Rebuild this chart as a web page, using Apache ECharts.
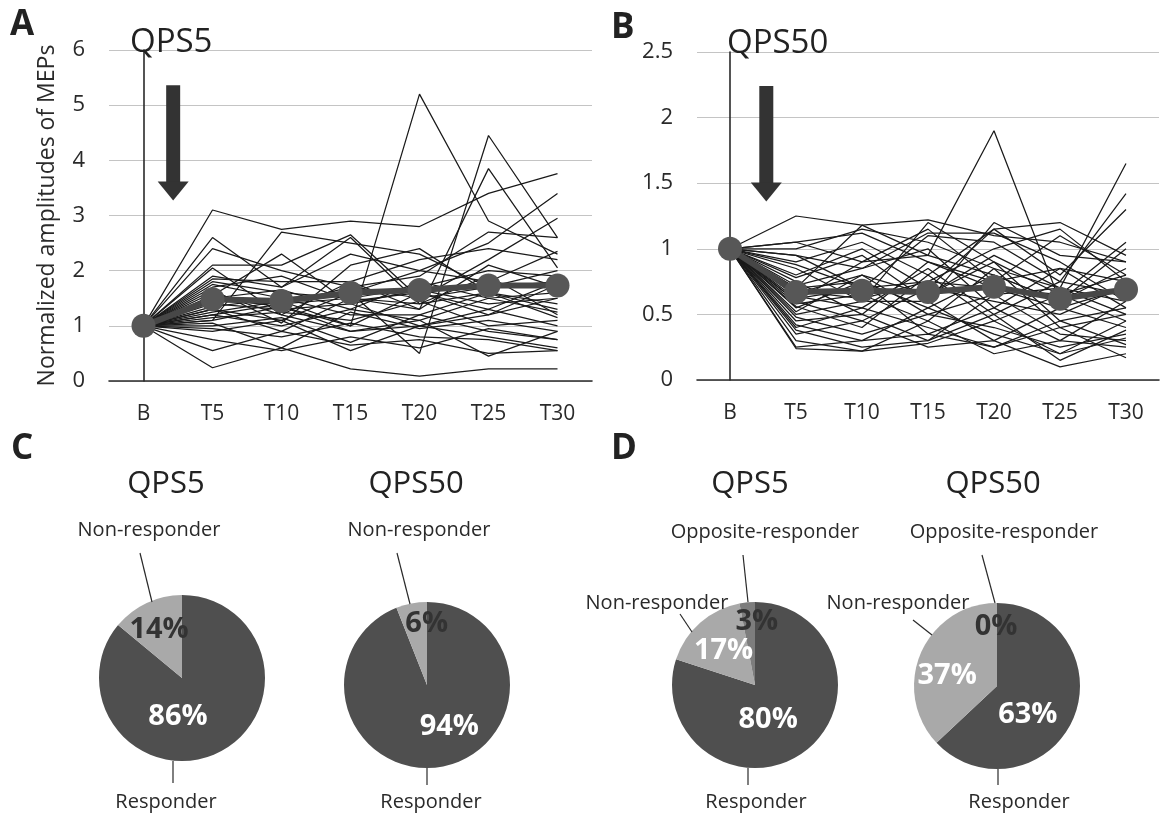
<!DOCTYPE html>
<html><head><meta charset="utf-8">
<script src="https://cdn.jsdelivr.net/npm/echarts@6/dist/echarts.min.js"></script>
<style>html,body{margin:0;padding:0;background:#fff}#c{width:1173px;height:813px}</style>
</head><body><div id="c"></div>
<script>
// ---------------- DATA ----------------
const TIMEPOINTS = ['B', 'T5', 'T10', 'T15', 'T20', 'T25', 'T30'];

// Panel A (QPS5): individual normalized MEP amplitudes, one row per subject
const QPS5_SUBJECTS = [
  [1, 3.10, 2.75, 2.90, 2.80, 3.40, 3.76],
  [1, 1.50, 1.35, 1.00, 5.20, 2.90, 2.30],
  [1, 1.30, 1.10, 1.60, 0.50, 4.45, 2.60],
  [1, 1.20, 1.40, 1.50, 1.30, 3.85, 2.05],
  [1, 2.60, 1.70, 2.30, 2.00, 2.50, 3.40],
  [1, 2.10, 2.10, 2.65, 1.50, 2.20, 2.95],
  [1, 2.40, 2.00, 1.70, 1.90, 2.70, 2.60],
  [1, 1.90, 1.70, 2.60, 1.40, 1.60, 1.30],
  [1, 1.85, 1.80, 1.80, 2.20, 2.40, 2.20],
  [1, 1.80, 1.60, 1.50, 1.70, 2.00, 1.90],
  [1, 1.75, 1.50, 1.60, 2.00, 1.80, 2.35],
  [1, 1.70, 1.90, 1.45, 1.60, 1.30, 1.80],
  [1, 1.60, 1.20, 1.80, 1.30, 2.10, 1.70],
  [1, 1.50, 1.65, 1.30, 1.80, 1.50, 1.60],
  [1, 1.45, 1.40, 1.70, 1.50, 1.70, 2.00],
  [1, 1.40, 1.30, 1.40, 1.65, 1.40, 1.50],
  [1, 1.35, 1.50, 1.20, 1.20, 1.60, 1.40],
  [1, 1.30, 0.90, 1.50, 1.40, 1.90, 1.20],
  [1, 1.25, 1.45, 1.00, 1.60, 1.20, 1.75],
  [1, 1.20, 1.00, 1.30, 1.10, 1.50, 1.25],
  [1, 1.15, 1.25, 1.10, 1.45, 1.00, 1.10],
  [1, 1.10, 1.35, 0.90, 1.00, 1.30, 1.00],
  [1, 1.05, 0.60, 1.25, 0.95, 1.10, 0.90],
  [1, 1.00, 1.15, 0.70, 1.20, 0.90, 0.75],
  [1, 0.95, 0.80, 1.05, 0.80, 0.75, 0.55],
  [1, 0.90, 1.10, 0.55, 1.00, 0.80, 0.60],
  [1, 0.75, 0.55, 0.80, 0.60, 0.95, 0.75],
  [1, 0.55, 0.90, 0.65, 0.75, 0.50, 0.55],
  [1, 0.24, 0.60, 0.22, 0.09, 0.22, 0.22],
  [1, 2.05, 1.20, 0.90, 1.10, 0.45, 0.90],
  [1, 1.55, 2.30, 1.40, 1.00, 1.20, 1.50],
  [1, 1.65, 1.05, 2.10, 2.40, 1.60, 1.15],
  [1, 1.10, 2.70, 2.50, 2.30, 1.70, 1.80]
];
const QPS5_MEAN = [1, 1.48, 1.45, 1.60, 1.65, 1.73, 1.73];

// Panel B (QPS50)
const QPS50_SUBJECTS = [
  [1, 1.25, 1.18, 1.22, 1.10, 1.05, 0.90],
  [1, 1.05, 0.90, 0.95, 1.90, 0.60, 0.70],
  [1, 1.00, 1.15, 1.05, 0.85, 0.70, 1.65],
  [1, 0.95, 0.70, 1.10, 1.05, 0.75, 1.42],
  [1, 0.90, 1.05, 0.80, 1.15, 0.80, 1.30],
  [1, 0.85, 0.60, 1.20, 0.90, 0.65, 1.05],
  [1, 0.80, 1.00, 0.70, 1.15, 1.20, 0.95],
  [1, 0.78, 0.95, 0.60, 1.20, 0.95, 0.90],
  [1, 0.75, 0.50, 0.90, 0.75, 1.10, 0.80],
  [1, 0.72, 0.85, 1.00, 0.55, 0.85, 0.75],
  [1, 0.70, 0.75, 0.55, 0.80, 0.60, 0.85],
  [1, 0.68, 0.62, 0.75, 0.70, 0.55, 0.70],
  [1, 0.66, 0.80, 0.50, 0.65, 0.70, 0.60],
  [1, 0.64, 0.55, 0.85, 0.50, 0.75, 0.65],
  [1, 0.62, 0.70, 0.65, 0.90, 0.45, 0.55],
  [1, 0.60, 0.45, 0.70, 0.60, 0.50, 0.72],
  [1, 0.58, 0.65, 0.45, 0.85, 0.40, 0.50],
  [1, 0.56, 0.40, 0.80, 0.45, 0.65, 0.45],
  [1, 0.55, 0.75, 0.35, 0.55, 0.30, 0.60],
  [1, 0.50, 0.60, 0.60, 0.30, 0.55, 0.40],
  [1, 0.48, 0.35, 0.50, 0.40, 0.25, 0.35],
  [1, 0.45, 0.50, 0.30, 0.65, 0.35, 0.30],
  [1, 0.42, 0.30, 0.55, 0.35, 0.20, 0.45],
  [1, 0.40, 0.55, 0.40, 0.25, 0.45, 0.27],
  [1, 0.38, 0.25, 0.30, 0.50, 0.15, 0.38],
  [1, 0.35, 0.45, 0.25, 0.30, 0.10, 0.20],
  [1, 0.30, 0.22, 0.45, 0.20, 0.30, 0.25],
  [1, 0.25, 0.30, 0.35, 0.25, 0.40, 0.17],
  [1, 0.24, 0.22, 0.28, 0.45, 0.20, 0.32],
  [1, 1.05, 1.12, 0.90, 0.70, 0.65, 0.80],
  [1, 0.95, 0.85, 1.12, 1.12, 0.90, 0.60],
  [1, 0.88, 0.70, 0.75, 1.00, 1.15, 0.75],
  [1, 0.70, 1.18, 0.95, 0.80, 0.60, 1.00],
  [1, 0.60, 0.90, 1.15, 0.75, 0.85, 0.55],
  [1, 0.52, 0.80, 0.65, 0.95, 0.70, 0.50]
];
const QPS50_MEAN = [1, 0.67, 0.68, 0.67, 0.71, 0.62, 0.69];

// Stimulation arrows: [x position (category index units), top value, tip value]
const ARROW_A = [[0.43, 5.36, 3.27]];
const ARROW_B = [[0.55, 2.24, 1.36]];

// Pie charts (percent)
const C_NAMES = ['Responder', 'Non-responder'];
const C_QPS5 = [86, 14];
const C_QPS50 = [94, 6];
const D_NAMES = ['Responder', 'Non-responder', 'Opposite-responder'];
const D_QPS5 = [80, 17, 3];
const D_QPS50 = [63, 37, 0];

// ---------------- STYLE / LAYOUT ----------------
const FONT = '"Open Sans", "Liberation Sans", sans-serif';
const SLICE_COLOR = { 'Responder': '#4f4f4f', 'Non-responder': '#a9a9a9', 'Opposite-responder': '#7d7d7d' };
const PIE_R = 83;
const PIES = [
  { key: 'C1', center: [182, 678], names: C_NAMES, values: C_QPS5, pctColor: ['#fff', '#333'],
    pctShift: [[-23, -2], [-4, -8]],
    nameLayout: [ { pos: [166, 802], line: [[173, 761], [173, 783]] },
                  { pos: [149, 530], line: [[140, 553], [152, 602]] } ] },
  { key: 'C2', center: [427, 685], names: C_NAMES, values: C_QPS50, pctColor: ['#fff', '#333'],
    pctShift: [[14, -2], [8, -18]],
    nameLayout: [ { pos: [431, 802], line: [[427, 768], [427, 785]] },
                  { pos: [419, 530], line: [[397, 553], [410, 604]] } ] },
  { key: 'D1', center: [755, 685], names: D_NAMES, values: D_QPS5, pctColor: ['#fff', '#fff', '#333'],
    pctShift: [[-13, -1], [-2, -1], [6, -19]],
    nameLayout: [ { pos: [756, 802], line: [[748, 768], [748, 785]] },
                  { pos: [657, 603], line: [[680, 614], [692, 632]] },
                  { pos: [765, 532], line: [[743, 555], [748, 602]] } ] },
  { key: 'D2', center: [997, 686], names: D_NAMES, values: D_QPS50, pctColor: ['#fff', '#fff', '#333'],
    pctShift: [[-10, 11], [-9, 7], [-1, -15]],
    nameLayout: [ { pos: [1019, 802], line: [[998, 769], [998, 785]] },
                  { pos: [898, 603], line: [[913, 620], [932, 635]] },
                  { pos: [1004, 532], line: [[982, 555], [995, 603]] } ] }
];

// ---------------- BUILD ----------------
const chart = echarts.init(document.getElementById('c'), null, { renderer: 'canvas' });

function catAxis(gi) {
  return {
    type: 'category', gridIndex: gi, data: TIMEPOINTS, boundaryGap: true,
    axisLine: { show: true, lineStyle: { color: '#2a2a2a', width: 1.6 } },
    axisTick: { show: false },
    axisLabel: { color: '#2a2a2a', fontSize: 21, fontFamily: FONT, margin: 23 },
    splitLine: { show: false }
  };
}
function hiddenValueX(gi) {
  return { type: 'value', gridIndex: gi, min: -0.5, max: 6.5, show: false, splitLine: { show: false } };
}
function valAxis(gi, max, interval, name) {
  return {
    type: 'value', gridIndex: gi, min: 0, max: max, interval: interval,
    name: name || '', nameLocation: 'middle', nameGap: 50,
    nameTextStyle: { color: '#2a2a2a', fontSize: 23, fontFamily: FONT },
    axisLine: { show: true, lineStyle: { color: '#2a2a2a', width: 1.6 } },
    axisTick: { show: false },
    axisLabel: { color: '#2a2a2a', fontSize: 22, fontFamily: FONT, margin: 24 },
    splitLine: { show: true, lineStyle: { color: '#c4c4c4', width: 1 } }
  };
}

function subjectSeries(subjects, xi, yi) {
  return subjects.map((vals, i) => ({
    type: 'line', name: 'S' + (i + 1), xAxisIndex: xi, yAxisIndex: yi, data: vals,
    symbol: 'none', silent: true, z: 2,
    lineStyle: { color: '#1a1a1a', width: 1.25 }
  }));
}
function meanSeries(vals, xi, yi) {
  return {
    type: 'line', name: 'mean', xAxisIndex: xi, yAxisIndex: yi, data: vals,
    symbol: 'circle', symbolSize: 24, silent: true, z: 4,
    itemStyle: { color: '#575757' },
    lineStyle: { color: '#474747', width: 6 }
  };
}
function arrowSeries(data, xi, yi) {
  return {
    type: 'custom', xAxisIndex: xi, yAxisIndex: yi, data: data, silent: true, z: 5,
    encode: { x: 0, y: [1, 2] },
    renderItem: function (params, api) {
      const x = api.value(0);
      const top = api.coord([x, api.value(1)]);
      const tip = api.coord([x, api.value(2)]);
      const headH = 19, headW = 31, shaftW = 14;
      return {
        type: 'group', children: [
          { type: 'rect', shape: { x: top[0] - shaftW / 2, y: top[1], width: shaftW, height: tip[1] - headH - top[1] + 1 },
            style: { fill: '#333' } },
          { type: 'polygon', shape: { points: [[tip[0] - headW / 2, tip[1] - headH], [tip[0] + headW / 2, tip[1] - headH], [tip[0], tip[1]]] },
            style: { fill: '#333' } }
        ]
      };
    }
  };
}

const pieSeries = [];
PIES.forEach(p => {
  const pctData = p.names.map((n, i) => ({
    name: n, value: p.values[i],
    itemStyle: { color: SLICE_COLOR[n] },
    label: { color: p.pctColor[i] }
  }));
  pieSeries.push({
    type: 'pie', id: p.key + '_pct', center: p.center, radius: PIE_R, startAngle: 90, clockwise: true,
    avoidLabelOverlap: false, silent: true, animation: false,
    data: pctData,
    label: { show: true, position: 'inside', formatter: '{c}%', fontSize: 29, fontWeight: 'bold', fontFamily: FONT },
    labelLine: { show: false },
    labelLayout: function (params) {
      const s = p.pctShift[params.dataIndex];
      return { dx: s[0], dy: s[1] };
    }
  });
  const nameData = p.names.map((n, i) => ({ name: n, value: p.values[i] }));
  pieSeries.push({
    type: 'pie', id: p.key + '_name', center: p.center, radius: PIE_R, startAngle: 90, clockwise: true,
    avoidLabelOverlap: false, silent: true, animation: false, z: 3,
    data: nameData,
    itemStyle: { color: 'rgba(0,0,0,0)' },
    label: { show: true, position: 'outside', formatter: '{b}', color: '#2a2a2a', fontSize: 20, fontFamily: FONT },
    labelLine: { show: true, length: 10, length2: 10, lineStyle: { color: '#2a2a2a', width: 1.2 } },
    labelLayout: function (params) {
      const L = p.nameLayout[params.dataIndex];
      return { x: L.pos[0], y: L.pos[1], align: 'center', verticalAlign: 'middle', labelLinePoints: L.line };
    }
  });
});

function txt(text, x, y, size, weight, align) {
  return { type: 'text', x: x, y: y, silent: true, z: 10,
    style: { text: text, fill: '#222', font: (weight || 'normal') + ' ' + size + 'px ' + FONT,
             align: align || 'left', verticalAlign: 'middle' } };
}

const option = {
  animation: false,
  backgroundColor: '#fff',
  grid: [
    { left: 109, top: 50, width: 483, height: 331, containLabel: false },
    { left: 697, top: 52, width: 462, height: 328, containLabel: false }
  ],
  xAxis: [catAxis(0), catAxis(1), hiddenValueX(0), hiddenValueX(1)],
  yAxis: [valAxis(0, 6, 1, 'Normalized amplitudes of MEPs'), valAxis(1, 2.5, 0.5)],
  series: [].concat(
    subjectSeries(QPS5_SUBJECTS, 0, 0),
    [meanSeries(QPS5_MEAN, 0, 0)],
    subjectSeries(QPS50_SUBJECTS, 1, 1),
    [meanSeries(QPS50_MEAN, 1, 1)],
    [arrowSeries(ARROW_A, 2, 0), arrowSeries(ARROW_B, 3, 1)],
    pieSeries
  ),
  graphic: [
    txt('A', 10, 25, 35, 'bold'),
    txt('QPS5', 130, 43, 33),
    txt('B', 611, 28, 35, 'bold'),
    txt('QPS50', 727, 44, 33),
    txt('C', 11, 449, 35, 'bold'),
    txt('D', 611, 449, 35, 'bold'),
    txt('QPS5', 166, 484, 31, 'normal', 'center'),
    txt('QPS50', 416, 484, 31, 'normal', 'center'),
    txt('QPS5', 750, 484, 31, 'normal', 'center'),
    txt('QPS50', 993, 484, 31, 'normal', 'center')
  ]
};
chart.setOption(option);
</script>
</body></html>
